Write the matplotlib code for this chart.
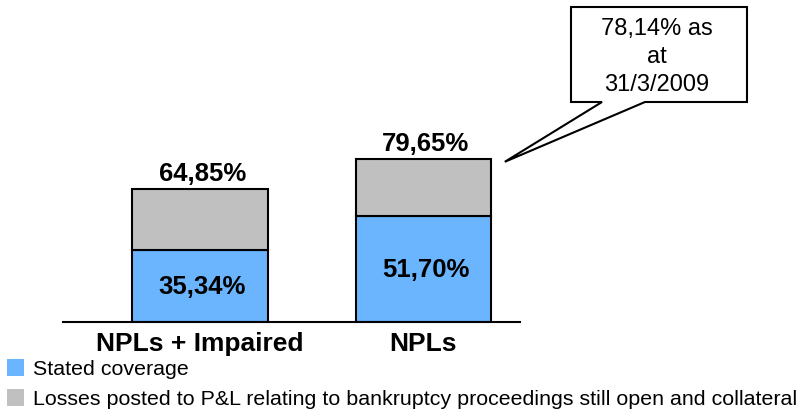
import matplotlib.pyplot as plt
from matplotlib.patches import Rectangle, Polygon

plt.rcParams['font.family'] = ['Liberation Sans', 'DejaVu Sans']

# data
categories = ['NPLs + Impaired', 'NPLs']
stated = [35.34, 51.70]
totals = [64.85, 79.65]
losses = [t - s for t, s in zip(totals, stated)]
stated_labels = ['35,34%', '51,70%']
total_labels = ['64,85%', '79,65%']
callout_text = '78,14% as\nat\n31/3/2009'
legend_labels = ['Stated coverage',
                 'Losses posted to P&L relating to bankruptcy proceedings still open and collateral']

blue = '#6BB5FF'
gray = '#C0C0C0'

fig = plt.figure(figsize=(8, 4.14), dpi=100)
ax = fig.add_axes([63 / 800, (414 - 323) / 414, 457 / 800, 313 / 414])

x = list(range(len(categories)))
w = 0.608
ax.bar(x, stated, width=w, color=blue, edgecolor='black', linewidth=1.5)
ax.bar(x, losses, bottom=stated, width=w, color=gray, edgecolor='black', linewidth=1.5)

for i in x:
    ax.text(i + 0.01, stated[i] / 2, stated_labels[i], ha='center', va='center',
            fontsize=18.5, fontweight='bold')
    ax.text(i + 0.01, totals[i] + 2, total_labels[i], ha='center', va='bottom',
            fontsize=18.5, fontweight='bold')

ax.set_xlim(-0.613, 1.432)
ax.set_ylim(0, 152.7)
for s in ['top', 'right', 'left']:
    ax.spines[s].set_visible(False)
ax.spines['bottom'].set_linewidth(1.5)
ax.set_yticks([])
ax.set_xticks(x)
ax.set_xticklabels(categories, fontsize=19, fontweight='bold')
ax.tick_params(axis='x', length=0, pad=6.5)

# callout box with tail pointing at the NPLs bar
inv = fig.transFigure.inverted()
tip = inv.transform(ax.transData.transform((1 + w / 2 + 0.06, totals[1] - 1.5)))
H = 414.0
def fp(px, py):
    return (px / 800, (H - py) / H)
pts = [fp(571, 8), fp(747, 8), fp(747, 103), fp(645, 103), tuple(tip), fp(602, 103), fp(571, 103)]
fig.patches.append(Polygon(pts, closed=True, facecolor='white', edgecolor='black',
                           linewidth=1.5, transform=fig.transFigure, figure=fig))
fig.text(657 / 800, (H - 57) / H, callout_text, ha='center', va='center',
         fontsize=17, linespacing=1.38)

# legend
colors = [blue, gray]
sq_y = [360, 390]
for c, yy, lab in zip(colors, sq_y, legend_labels):
    fig.patches.append(Rectangle(fp(7, yy + 17), 17 / 800, 17 / H, facecolor=c,
                                 edgecolor='none', transform=fig.transFigure, figure=fig))
    fig.text(33 / 800, (H - (yy + 10)) / H, lab, ha='left', va='center', fontsize=15.4)

fig.savefig('out.png', dpi=100)
